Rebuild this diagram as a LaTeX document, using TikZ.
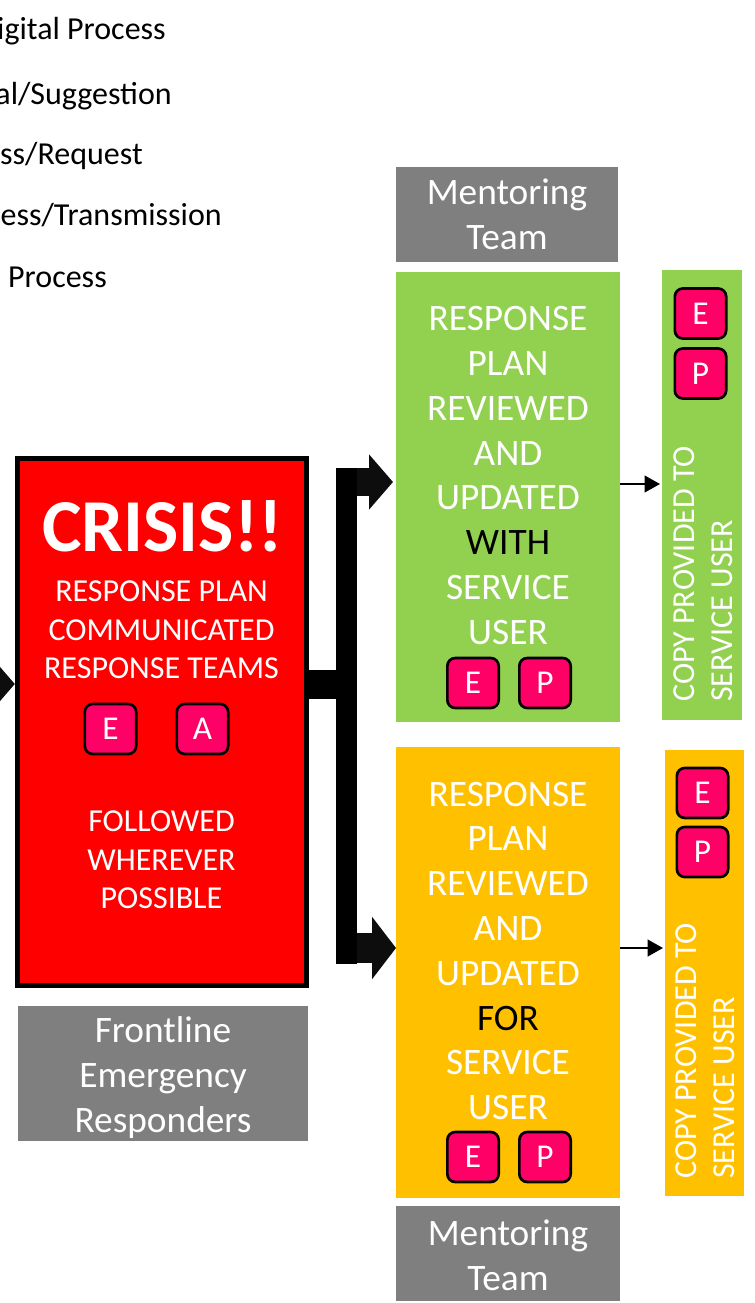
\documentclass[tikz,border=0pt]{standalone}
\usepackage{fontspec}
\setmainfont{Carlito}
\usetikzlibrary{arrows.meta,calc}
\definecolor{gn}{HTML}{92D050}
\definecolor{og}{HTML}{FFC000}
\definecolor{gy}{HTML}{7F7F7F}
\definecolor{pk}{HTML}{FF0066}
\definecolor{ar}{HTML}{0D0D0D}
\tikzset{
 x=0.75pt,y=-0.75pt,
 box/.style={inner sep=0pt,outer sep=0pt,anchor=north west},
 greybox/.style={box,fill=gy},
 plantext/.style={text=white,align=center,inner sep=0pt,font=\fontsize{28}{33.6}\selectfont},
 redtext/.style={text=white,align=center,inner sep=0pt,font=\fontsize{24}{28.9}\selectfont},
 sidetext/.style={text=white,align=left,inner sep=0pt,rotate=90,font=\fontsize{24}{28.5}\selectfont},
 badge/.style={draw=black,fill=pk,text=white,line width=2pt,rounded corners=6pt,minimum width=38.5pt,minimum height=37.5pt,inner sep=0pt,font=\fontsize{25}{28}\selectfont},
 legend/.style={inner sep=0pt,anchor=base east,font=\fontsize{24}{28}\selectfont},
 barh/.style={line width=21.75pt},
 barv/.style={line width=16pt},
 fat/.style={ar,line width=21pt,-{Triangle[length=18pt,width=40.5pt]}},
 fatter/.style={ar,line width=22.5pt,-{Triangle[length=18pt,width=46pt]}},
 thin/.style={black,line width=1.5pt,-{Triangle[length=11.5pt,width=12.5pt]}},
}
\begin{document}
\begin{tikzpicture}
\useasboundingbox (0,0) rectangle (755,1303);
\clip (0,0) rectangle (755,1303);
% legend
\node[legend] (l1) at (166,39) {igital Process};
\node[legend] (l2) at (172,104) {al/Suggestion};
\node[legend] (l3) at (143,164) {ss/Request};
\node[legend] (l4) at (222,225) {ess/Transmission};
\node[legend] (l5) at (107,287) {Process};
% boxes
\node[box,fill=gn,minimum width=168pt,minimum height=337.5pt] (green) at (396,272) {};
\node[box,fill=og,minimum width=168pt,minimum height=338.25pt] (orange) at (396,747) {};
\node[box,fill=gn,minimum width=60pt,minimum height=337.5pt] (gcopy) at (662,270) {};
\node[box,fill=og,minimum width=59.25pt,minimum height=334.5pt] (ocopy) at (665,750) {};
\node[greybox,minimum width=166.5pt,minimum height=71.25pt] (m1) at (396,167) {};
\node[greybox,minimum width=168pt,minimum height=71.25pt] (m2) at (396,1206) {};
\node[greybox,minimum width=217.5pt,minimum height=101.25pt] (fr) at (18,1006) {};
\node[plantext] (m1t) at (507,214.25) {Mentoring\\Team};
\node[plantext] (m2t) at (508,1255.25) {Mentoring\\Team};
\node[plantext] (frt) at (163,1077.5) {Frontline\\Emergency\\Responders};
\node[box,fill=red,draw=black,line width=3.75pt,minimum width=216.75pt,minimum height=395.25pt] (crisis) at (17.5,458.5) {};
% connectors
\coordinate (jn) at (crisis.east |- 0,684);
\coordinate (barmid) at (346.5,684);
\coordinate (bartop) at (346.5,468);
\coordinate (barbot) at (346.5,964);
\coordinate (uparrow) at (346.5,482);
\coordinate (loarrow) at (346.5,948);
\coordinate (incoming) at (-30,684);
\draw[fat,shorten >=2.25pt] (uparrow) -- (green.west |- uparrow);
\draw[fatter] (loarrow) -- (orange.west |- loarrow);
\draw[barh] (jn) -- (barmid);
\draw[barv] (bartop) -- (barbot);
\draw[fat,shorten >=2pt] (incoming) -- (crisis.west |- incoming);
\draw[thin,shorten >=1.5pt] (green.east |- 0,484) -- (gcopy.west |- 0,484);
\draw[thin,shorten >=1.5pt] (orange.east |- 0,948) -- (ocopy.west |- 0,948);
% crisis text
\node[text=white,inner sep=0pt,font=\bfseries\fontsize{56}{60}\selectfont] (ct) at (162.5,526) {CRISIS!!};
\node[redtext] (c1) at (161.5,630) {RESPONSE PLAN\\COMMUNICATED\\RESPONSE TEAMS};
\node[redtext] (c2) at (161.5,860) {FOLLOWED\\WHEREVER\\POSSIBLE};
\node[badge] (ce) at (110.5,729) {E};
\node[badge] (ca) at (202.5,729) {A};
% green text
\node[plantext] (gt) at (508,475.5) {RESPONSE\\PLAN\\REVIEWED\\AND\\UPDATED\\\textcolor{black}{WITH}\\SERVICE\\USER};
\node[badge] (g1) at (473,683) {E};
\node[badge] (g2) at (545,683) {P};
\node[badge] (g3) at (700.5,313.5) {E};
\node[badge] (g4) at (700.5,373.5) {P};
% orange text
\node[plantext] (ot) at (508,951) {RESPONSE\\PLAN\\REVIEWED\\AND\\UPDATED\\\textcolor{black}{FOR}\\SERVICE\\USER};
\node[badge] (o1) at (473,1157) {E};
\node[badge] (o2) at (545,1157) {P};
\node[badge] (o3) at (702.5,793) {E};
\node[badge] (o4) at (702.5,852) {P};
% rotated
\node[sidetext,anchor=south west] (gs) at (733,702) {COPY PROVIDED TO\\SERVICE USER};
\node[sidetext,anchor=south west] (os) at (735,1179) {COPY PROVIDED TO\\SERVICE USER};
\end{tikzpicture}
\end{document}
